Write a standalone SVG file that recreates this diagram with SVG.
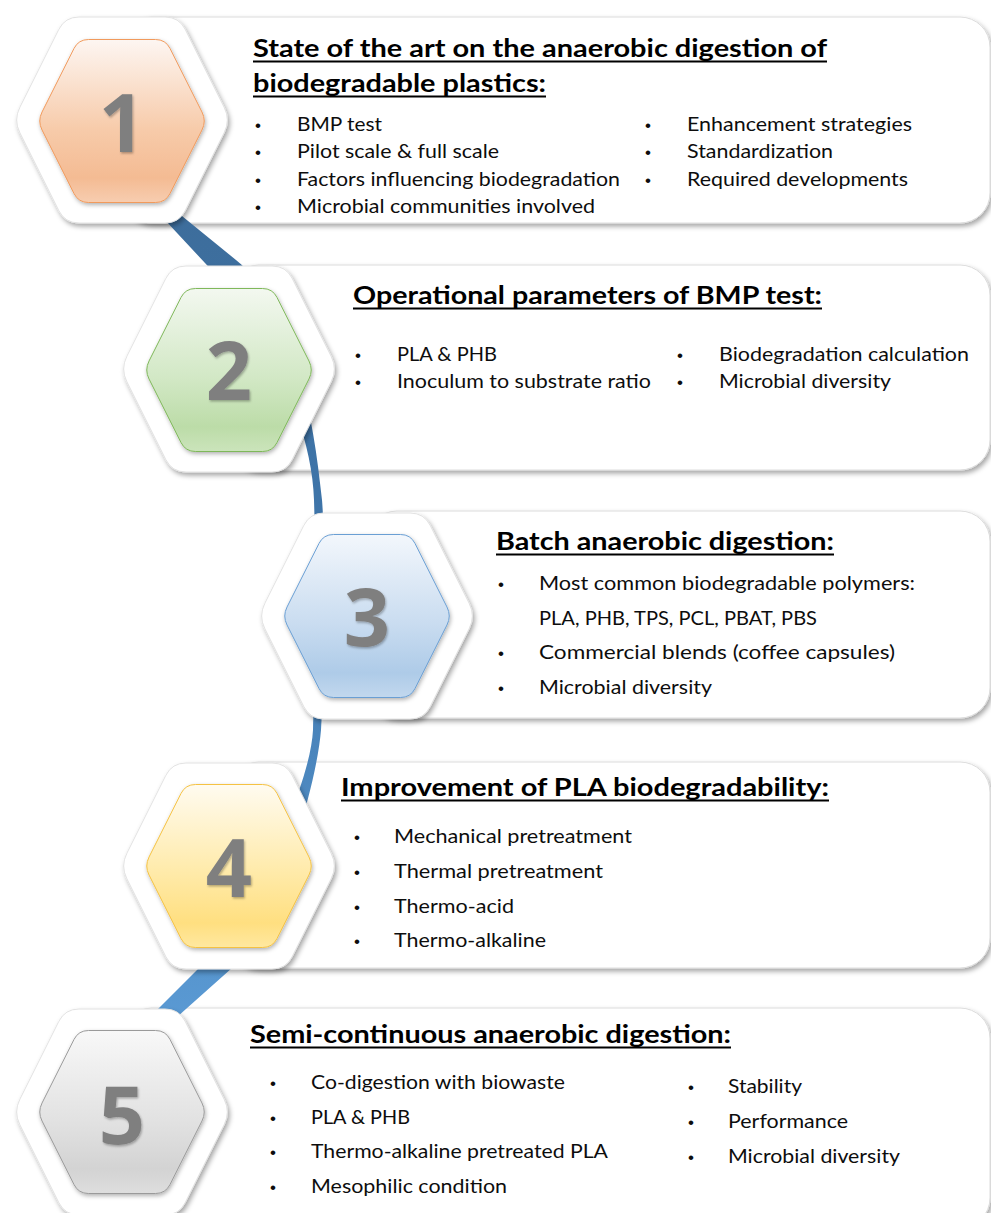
<svg xmlns="http://www.w3.org/2000/svg" xmlns:xlink="http://www.w3.org/1999/xlink" width="991" height="1213" viewBox="0 0 991 1213">
<style>
.box{fill:#fff;stroke:#dcdcdc;stroke-width:1;filter:url(#sh)}
.hexo{fill:#fff;stroke:#e2e2e2;stroke-width:1;filter:url(#sh)}
.t{font-family:Lato,'Liberation Sans',sans-serif;font-size:19px;fill:#0d0d0d}
.b{font-family:'Liberation Sans',Lato,sans-serif;font-size:17px;fill:#0d0d0d}
.h{font-family:Lato,'Liberation Sans',sans-serif;font-size:25px;font-weight:700;fill:#000}
.ul{stroke:#000;stroke-width:1.8}
.n{font-family:'Open Sans',Lato,sans-serif;font-weight:700;font-size:81px;fill:#7f7f7f;text-anchor:middle;filter:url(#tsh)}
</style>
<defs>
<filter id="sh" x="-10%" y="-10%" width="125%" height="130%">
<feDropShadow dx="2" dy="3" stdDeviation="2.5" flood-color="#000" flood-opacity="0.35"/>
</filter>
<filter id="ish" x="-10%" y="-10%" width="125%" height="130%">
<feDropShadow dx="1" dy="2" stdDeviation="2" flood-color="#000" flood-opacity="0.3"/>
</filter>
<filter id="tsh" x="-20%" y="-20%" width="150%" height="150%">
<feDropShadow dx="1" dy="1.5" stdDeviation="1" flood-color="#000" flood-opacity="0.3"/>
</filter>
<path id="ho" d="M -102.24,-12.52 L -63.26,-90.48 Q -57,-103 -43,-103 L 43,-103 Q 57,-103 63.26,-90.48 L 102.24,-12.52 Q 108.5,0 102.24,12.52 L 63.26,90.48 Q 57,103 43,103 L -43,103 Q -57,103 -63.26,90.48 L -102.24,12.52 Q -108.5,0 -102.24,-12.52 Z"/>
<path id="hi" d="M -80,-8.94 L -48,-72.56 Q -43.5,-81.5 -33.5,-81.5 L 33.5,-81.5 Q 43.5,-81.5 48,-72.56 L 80,-8.94 Q 84.5,0 80,8.94 L 48,72.56 Q 43.5,81.5 33.5,81.5 L -33.5,81.5 Q -43.5,81.5 -48,72.56 L -80,8.94 Q -84.5,0 -80,-8.94 Z"/>
<linearGradient id="g1" x1="0" y1="0" x2="0" y2="1"><stop offset="0" stop-color="#fdf6f2"/><stop offset="0.55" stop-color="#f7cbaa"/><stop offset="0.85" stop-color="#f4bb93"/><stop offset="1" stop-color="#f7cdb0"/></linearGradient>
<linearGradient id="g2" x1="0" y1="0" x2="0" y2="1"><stop offset="0" stop-color="#f3f8f0"/><stop offset="0.55" stop-color="#d2e8c5"/><stop offset="0.85" stop-color="#bcdca8"/><stop offset="1" stop-color="#cbe4bb"/></linearGradient>
<linearGradient id="g3" x1="0" y1="0" x2="0" y2="1"><stop offset="0" stop-color="#f3f7fc"/><stop offset="0.55" stop-color="#c9dcf0"/><stop offset="0.85" stop-color="#aecbe8"/><stop offset="1" stop-color="#c2d8ee"/></linearGradient>
<linearGradient id="g4" x1="0" y1="0" x2="0" y2="1"><stop offset="0" stop-color="#fffbf0"/><stop offset="0.55" stop-color="#ffeaa8"/><stop offset="0.85" stop-color="#ffdf80"/><stop offset="1" stop-color="#ffe8a0"/></linearGradient>
<linearGradient id="g5" x1="0" y1="0" x2="0" y2="1"><stop offset="0" stop-color="#f8f8f8"/><stop offset="0.55" stop-color="#e2e2e2"/><stop offset="0.85" stop-color="#d3d3d3"/><stop offset="1" stop-color="#dedede"/></linearGradient>
<linearGradient id="gb" gradientUnits="userSpaceOnUse" x1="0" y1="200" x2="0" y2="1040"><stop offset="0" stop-color="#3d6d9b"/><stop offset="0.4" stop-color="#3e75aa"/><stop offset="1" stop-color="#5b9bd5"/></linearGradient>
</defs>

<g id="boxes">
<rect id="box1" class="box" x="122" y="17" width="868" height="206" rx="30"/>
<rect id="box2" class="box" x="229" y="265" width="761" height="205" rx="30"/>
<rect id="box3" class="box" x="367" y="511" width="623" height="207" rx="30"/>
<rect id="box4" class="box" x="229" y="762" width="761" height="206" rx="30"/>
<rect id="box5" class="box" x="122" y="1008" width="868" height="220" rx="30"/>
</g>

<g id="connectors">
<path fill="url(#gb)" d="M 150,190 L 236,260 C 290,304 312,400 322,500 C 325,530 325,680 321,730 C 317,780 285,900 232,968 L 140,1050 L 117,1050 L 197,970 C 247,920 310,790 313,730 C 315,680 316,560 314,500 C 312,420 260,320 205,263 L 137,190 Z"/>
</g>

<g id="node1">
<use href="#ho" class="hexo" transform="translate(122,120)"/>
<use href="#hi" fill="url(#g1)" stroke="#f19a5c" stroke-width="1" filter="url(#ish)" transform="translate(122,121)"/>
<text class="n" x="122" y="152">1</text>
<text class="h" x="253" y="57" textLength="574" lengthAdjust="spacingAndGlyphs">State of the art on the anaerobic digestion of</text>
<text class="h" x="253" y="92" textLength="293" lengthAdjust="spacingAndGlyphs">biodegradable plastics:</text>
<line class="ul" x1="253" y1="61.5" x2="827" y2="61.5"/>
<line class="ul" x1="253" y1="96.5" x2="546" y2="96.5"/>
<text class="b" x="255" y="131">•</text><text class="t" x="297" y="131" textLength="85" lengthAdjust="spacingAndGlyphs">BMP test</text>
<text class="b" x="255" y="158">•</text><text class="t" x="297" y="158" textLength="202" lengthAdjust="spacingAndGlyphs">Pilot scale &amp; full scale</text>
<text class="b" x="255" y="186">•</text><text class="t" x="297" y="186" textLength="323" lengthAdjust="spacingAndGlyphs">Factors influencing biodegradation</text>
<text class="b" x="255" y="213">•</text><text class="t" x="297" y="213" textLength="298" lengthAdjust="spacingAndGlyphs">Microbial communities involved</text>
<text class="b" x="645" y="131">•</text><text class="t" x="687" y="131" textLength="225" lengthAdjust="spacingAndGlyphs">Enhancement strategies</text>
<text class="b" x="645" y="158">•</text><text class="t" x="687" y="158" textLength="146" lengthAdjust="spacingAndGlyphs">Standardization</text>
<text class="b" x="645" y="186">•</text><text class="t" x="687" y="186" textLength="221" lengthAdjust="spacingAndGlyphs">Required developments</text>
</g>

<g id="node2">
<use href="#ho" class="hexo" transform="translate(229,369)"/>
<use href="#hi" fill="url(#g2)" stroke="#7fb85a" stroke-width="1" filter="url(#ish)" transform="translate(229,370)"/>
<text class="n" x="229" y="400">2</text>
<text class="h" x="353" y="304" textLength="469" lengthAdjust="spacingAndGlyphs">Operational parameters of BMP test:</text>
<line class="ul" x1="353" y1="308.5" x2="822" y2="308.5"/>
<text class="b" x="355" y="361">•</text><text class="t" x="397" y="361" textLength="100" lengthAdjust="spacingAndGlyphs">PLA &amp; PHB</text>
<text class="b" x="355" y="388">•</text><text class="t" x="397" y="388" textLength="254" lengthAdjust="spacingAndGlyphs">Inoculum to substrate ratio</text>
<text class="b" x="677" y="361">•</text><text class="t" x="719" y="361" textLength="250" lengthAdjust="spacingAndGlyphs">Biodegradation calculation</text>
<text class="b" x="677" y="388">•</text><text class="t" x="719" y="388" textLength="172" lengthAdjust="spacingAndGlyphs">Microbial diversity</text>
</g>

<g id="node3">
<use href="#ho" class="hexo" transform="translate(367,616)"/>
<use href="#hi" fill="url(#g3)" stroke="#6a9fd4" stroke-width="1" filter="url(#ish)" transform="translate(367,616)"/>
<text class="n" x="367" y="646">3</text>
<text class="h" x="496" y="550" textLength="338" lengthAdjust="spacingAndGlyphs">Batch anaerobic digestion:</text>
<line class="ul" x1="496" y1="554.5" x2="834" y2="554.5"/>
<text class="b" x="498" y="590">•</text><text class="t" x="539" y="590" textLength="376" lengthAdjust="spacingAndGlyphs">Most common biodegradable polymers:</text>
<text class="t" x="539" y="625" textLength="278" lengthAdjust="spacingAndGlyphs">PLA, PHB, TPS, PCL, PBAT, PBS</text>
<text class="b" x="498" y="659">•</text><text class="t" x="539" y="659" textLength="356" lengthAdjust="spacingAndGlyphs">Commercial blends (coffee capsules)</text>
<text class="b" x="498" y="694">•</text><text class="t" x="539" y="694" textLength="173" lengthAdjust="spacingAndGlyphs">Microbial diversity</text>
</g>

<g id="node4">
<use href="#ho" class="hexo" transform="translate(229,866)"/>
<use href="#hi" fill="url(#g4)" stroke="#f5c242" stroke-width="1" filter="url(#ish)" transform="translate(229,866)"/>
<text class="n" x="229" y="897">4</text>
<text class="h" x="341" y="796" textLength="488" lengthAdjust="spacingAndGlyphs">Improvement of PLA biodegradability:</text>
<line class="ul" x1="341" y1="800.5" x2="829" y2="800.5"/>
<text class="b" x="354" y="843">•</text><text class="t" x="394" y="843" textLength="238" lengthAdjust="spacingAndGlyphs">Mechanical pretreatment</text>
<text class="b" x="354" y="878">•</text><text class="t" x="394" y="878" textLength="209" lengthAdjust="spacingAndGlyphs">Thermal pretreatment</text>
<text class="b" x="354" y="913">•</text><text class="t" x="394" y="913" textLength="120" lengthAdjust="spacingAndGlyphs">Thermo-acid</text>
<text class="b" x="354" y="947">•</text><text class="t" x="394" y="947" textLength="152" lengthAdjust="spacingAndGlyphs">Thermo-alkaline</text>
</g>

<g id="node5">
<use href="#ho" class="hexo" transform="translate(122,1112)"/>
<use href="#hi" fill="url(#g5)" stroke="#9a9a9a" stroke-width="1" filter="url(#ish)" transform="translate(122,1112)"/>
<text class="n" x="122" y="1144">5</text>
<text class="h" x="250" y="1043" textLength="481" lengthAdjust="spacingAndGlyphs">Semi-continuous anaerobic digestion:</text>
<line class="ul" x1="250" y1="1047.5" x2="731" y2="1047.5"/>
<text class="b" x="270" y="1089">•</text><text class="t" x="311" y="1089" textLength="254" lengthAdjust="spacingAndGlyphs">Co-digestion with biowaste</text>
<text class="b" x="270" y="1124">•</text><text class="t" x="311" y="1124" textLength="99" lengthAdjust="spacingAndGlyphs">PLA &amp; PHB</text>
<text class="b" x="270" y="1158">•</text><text class="t" x="311" y="1158" textLength="297" lengthAdjust="spacingAndGlyphs">Thermo-alkaline pretreated PLA</text>
<text class="b" x="270" y="1193">•</text><text class="t" x="311" y="1193" textLength="196" lengthAdjust="spacingAndGlyphs">Mesophilic condition</text>
<text class="b" x="688" y="1093">•</text><text class="t" x="728" y="1093" textLength="74" lengthAdjust="spacingAndGlyphs">Stability</text>
<text class="b" x="688" y="1128">•</text><text class="t" x="728" y="1128" textLength="120" lengthAdjust="spacingAndGlyphs">Performance</text>
<text class="b" x="688" y="1163">•</text><text class="t" x="728" y="1163" textLength="172" lengthAdjust="spacingAndGlyphs">Microbial diversity</text>
</g>
</svg>
